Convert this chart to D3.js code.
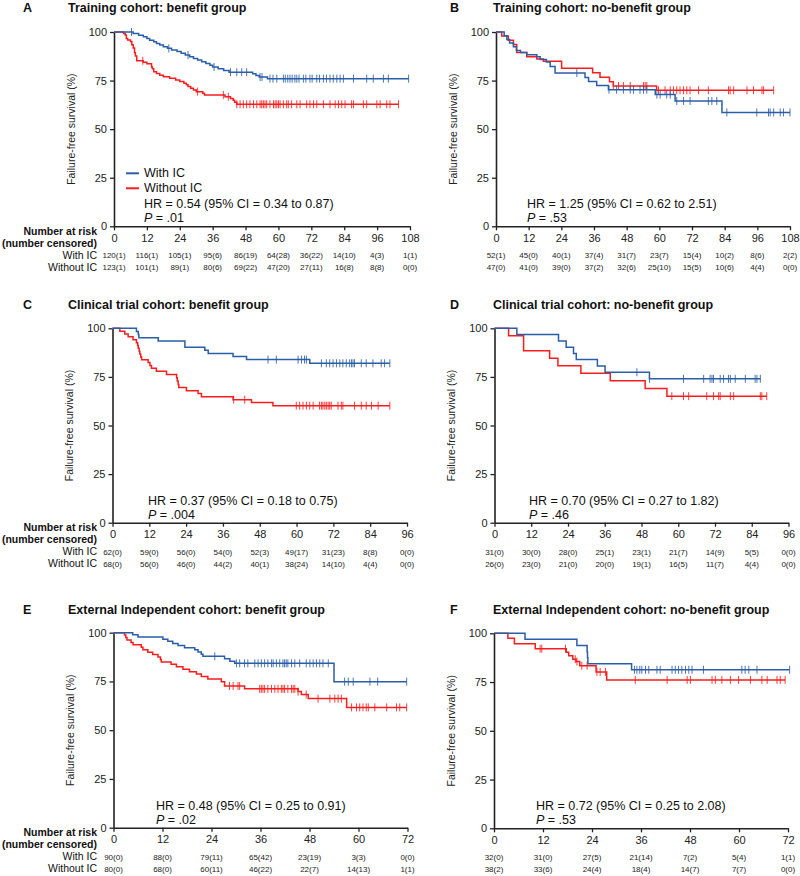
<!DOCTYPE html>
<html><head><meta charset="utf-8">
<script src="https://cdn.jsdelivr.net/npm/d3@7"></script>
<style>body{margin:0;background:#fff}svg{display:block}text{font-family:Arial,"Liberation Sans",sans-serif}</style>
</head><body><svg id="c" width="800" height="876"></svg>
<script>
// ---------- DATA ----------
const yTicks = [0, 25, 50, 75, 100];
const xTicks108 = [0, 12, 24, 36, 48, 60, 72, 84, 96, 108];
const xTicks96 = [0, 12, 24, 36, 48, 60, 72, 84, 96];
const xTicks72 = [0, 12, 24, 36, 48, 60, 72];
const seriesNames = ["With IC", "Without IC"];

// Panel A (events: [month, survival %]; censors: months)
const A_with_ev = [[7,99.2],[9,98.3],[10.7,97.5],[12,96.6],[13,95.8],[14.5,95],[15.5,94.1],[16.7,93.3],[18,92.4],[19.5,91.6],[21,90.7],[23,89.9],[24.5,89],[26,88.1],[27.6,87.3],[29,86.4],[30.5,85.6],[32,84.7],[33.5,83.8],[35,82.9],[36,82],[38,81.1],[40,80.2],[42,79.3],[50.6,78.5],[51.8,77.6],[53,76.8],[56,76]];
const A_with_cens = [6.4,20,27,36.5,42.5,44.8,46.6,48.4,53.3,54,56.9,58,59.4,61.8,62.5,63.4,64.2,65,66,66.7,67.5,69.1,70,71.5,72.3,74,75,76.4,77.5,78.8,80,81.3,82.5,83.7,87.4,92.2,94.6,98.3,100.1,107.5];
const A_wo_ev = [[3.5,99.2],[4.1,98.4],[4.5,96.7],[5,95.9],[6,95.1],[6.5,93.4],[7,91.8],[7.5,89.3],[7.8,87.7],[8.3,85.2],[10.7,84.4],[12,83.6],[13.7,82],[14,81.1],[14.5,79.5],[15.5,78.7],[16.7,77.8],[18,77],[20.3,76.2],[22.5,75.3],[24,74.5],[25.5,73.6],[26.4,72.8],[27,71.9],[28,71],[29,70.2],[30,69.3],[32.4,68.5],[33,67.6],[40.5,66.7],[42.5,65.8],[43.5,64.9],[44,63.8],[44.8,62.8]];
const A_wo_cens = [10.5,30.5,39.9,41.7,44.8,46,47.2,48.4,49.6,50.9,52.1,53.3,53.9,54.5,55.1,55.7,56.9,58.2,58.8,59.4,60,60.6,61.8,63,63.6,64.8,66.7,67.9,70.3,71.5,72.8,74,76.4,78.8,80.7,81.9,83.1,84.3,86.7,87.4,91,92.2,95.9,97.1,99.5,100.7,103.8];
const A_risk_with = ["120(1)","116(1)","105(1)","95(6)","86(19)","64(28)","36(22)","14(10)","4(3)","1(1)"];
const A_risk_wo = ["123(1)","101(1)","89(1)","80(6)","69(22)","47(20)","27(11)","16(8)","8(8)","0(0)"];

// Panel B
const B_with_ev = [[3,98.1],[4,96.2],[5,94.3],[6.4,92.4],[7.5,90.5],[9,89.4],[11.3,88.3],[15,87.2],[16.2,85.9],[18.5,84.6],[19.9,82.3],[21.7,78.9],[32.7,76.6],[34,74.5],[37,72.5],[41.3,70.3],[58.5,67.8],[65.8,64.5],[83,58.6]];
const B_with_cens = [29.7,41.5,44.3,46.8,49.3,50.5,52.9,54.2,55.4,59.1,60.3,62.7,64,66.4,68.9,71.3,78,79.3,81.1,84.8,95.8,100.1,100.7,102,104.4,105.6,108];
const B_wo_ev = [[2.1,97.9],[4.5,95.7],[6.4,93.6],[7.6,89.4],[11.3,87.2],[15,86.1],[17.4,85],[24.1,81.4],[35.5,79],[38.2,76.7],[41.7,74.4],[43.1,72.2],[59,70]];
const B_wo_cens = [43.1,45,46.8,49.3,54.2,54.8,55.4,59.7,62.1,64,65.2,66.4,67.6,68.9,70.1,71.3,74.4,78,85.4,86,87.3,92.2,94.6,97.7,98.3,102];
const B_risk_with = ["52(1)","45(0)","40(1)","37(4)","31(7)","23(7)","15(4)","10(2)","8(6)","2(2)"];
const B_risk_wo = ["47(0)","41(0)","39(0)","37(2)","32(6)","25(10)","15(5)","10(6)","4(4)","0(0)"];

// Panel C
const C_with_ev = [[7.8,98.4],[8.4,96.8],[8.6,95.2],[14.9,93.5],[23.6,90.3],[30.1,88.7],[31.2,87.1],[39.3,85.5],[43.7,83.9],[64.3,82]];
const C_with_cens = [50.7,53.4,60.5,61.6,62.6,63.2,68.1,69.7,70.8,71.9,73,74.1,75.1,76.2,77.3,77.9,78.4,78.9,81.1,82.7,84.9,87.6,88.7,90.4];
const C_wo_ev = [[2.4,98.5],[4,97.1],[5.1,95.6],[6.7,94.1],[7.8,92.6],[8.2,91.2],[8.4,89.7],[8.7,88.2],[8.9,86.8],[9.2,85.3],[9.5,83.8],[11.6,82.4],[12.2,80.9],[12.7,79.4],[14.3,77.9],[17.6,76.2],[20.9,74.6],[21.1,72.9],[21.4,71.2],[21.6,69.5],[24.1,67.9],[27.9,66.4],[29,64.8],[39.3,63.3],[45.3,61.8],[52.3,60.2]];
const C_wo_cens = [39.5,43.1,59.9,61,62.1,63.2,64.3,65.4,67.5,68.1,68.6,69.2,69.7,70.3,70.8,71.3,73.5,74.6,75.1,78.9,81.1,82.7,84.4,86.6,90.4];
const C_risk_with = ["62(0)","59(0)","56(0)","54(0)","52(3)","49(17)","31(23)","8(8)","0(0)"];
const C_risk_wo = ["68(0)","56(0)","46(0)","44(2)","40(1)","38(24)","14(10)","4(4)","0(0)"];

// Panel D
const D_with_ev = [[7.3,96.8],[20.9,93.5],[23.4,90.3],[25.8,87.1],[26.7,83.9],[33.6,80.6],[36.1,77.4],[50.6,74]];
const D_with_cens = [46.5,50.6,61.7,68.3,70.4,71,71.5,73.7,74.8,76.4,77,78.6,81.9,85.1,85.7,86.8];
const D_wo_ev = [[4.6,96.2],[9.5,88.5],[18,84.6],[20.7,80.8],[28.2,76.9],[37.8,73],[49.2,69],[56.3,65.1]];
const D_wo_cens = [57.9,61.7,63.4,69.3,71.5,73.2,73.7,77,78.1,86.8,87.3,88.9];
const D_risk_with = ["31(0)","30(0)","28(0)","25(1)","23(1)","21(7)","14(9)","5(5)","0(0)"];
const D_risk_wo = ["26(0)","23(0)","21(0)","20(0)","19(1)","16(5)","11(7)","4(4)","0(0)"];

// Panel E
const E_with_ev = [[4.7,98.9],[6,97.8],[12.1,96.7],[13.3,95.6],[14.5,94.5],[15.8,93.4],[17.4,92.3],[19.9,91.2],[20.7,90.1],[21.5,89],[21.9,87.9],[27.2,86.6],[28.5,85.4],[29.7,84.3],[54,74.9]];
const E_with_cens = [24.8,30.1,30.9,32.1,32.9,34.6,35.4,36.2,37,37.8,38.7,39.1,39.9,40.7,41.5,41.9,42.3,42.7,43.6,44.4,45.6,47.2,48.1,48.9,49.7,50.5,51.3,52.6,56.6,57.5,58.7,62.8,64.7,71.8];
const E_wo_ev = [[2.7,98.8],[3,97.5],[3.3,96.3],[4.3,95],[4.8,93.8],[6.8,92.5],[7.2,91.3],[8.4,90],[9.6,88.8],[10.9,87.5],[11.5,86.3],[11.7,85],[14.1,83.8],[15.4,82.5],[17,81.3],[18.6,80],[20.3,78.8],[21.5,77.5],[23.1,76.3],[26.4,74.8],[27.2,72.7],[32.1,71.2],[45.2,69.8],[46,68.3],[47.7,66.2],[57.1,61.7]];
const E_wo_cens = [28.4,29.3,30.5,30.9,35.8,36.2,36.6,37,37.8,38.7,39.5,40.3,41.1,41.5,41.9,42.7,43.6,44,44.4,45.2,47.2,50.1,53,54.2,55,55.8,58.3,59.5,60.3,61.1,61.9,62.4,64,66.9,69.3,70.1,71.8];
const E_risk_with = ["90(0)","88(0)","79(11)","65(42)","23(19)","3(3)","0(0)"];
const E_risk_wo = ["80(0)","68(0)","60(11)","46(22)","22(7)","14(13)","1(1)"];

// Panel F
const F_with_ev = [[7.6,96.9],[20.3,93.8],[22.8,90.6],[22.9,87.5],[23,84.4],[33.7,81.3]];
const F_with_cens = [34.4,35,35.7,36.2,37.1,37.9,39.9,40.7,43.6,44.4,45.2,46,46.9,47.7,48.5,51.3,60.7,61.5,62.4,64.4,72.4];
const F_wo_ev = [[3.4,97.4],[5,94.7],[10.1,92.1],[17.7,90.3],[18.3,88.5],[19.3,86.7],[20.1,85.5],[21,83.4],[25,80.2],[27.6,76.1]];
const F_wo_cens = [11.3,11.7,17.5,19.9,20.3,21.5,22.8,25.2,26,27.3,34.6,42.4,47.3,48.1,53.4,54.2,55.8,57.9,59.9,62.8,65.6,66.9,69.3,70.1,71.3];
const F_risk_with = ["32(0)","31(0)","27(5)","21(14)","7(2)","5(4)","1(1)"];
const F_risk_wo = ["38(2)","33(6)","24(4)","18(4)","14(7)","7(7)","0(0)"];

const letters = ["A","B","C","D","E","F"];
const titles = ["Training cohort: benefit group","Training cohort: no-benefit group","Clinical trial cohort: benefit group","Clinical trial cohort: no-benefit group","External Independent cohort: benefit group","External Independent cohort: no-benefit group"];
const hrTexts = ["HR = 0.54 (95% CI = 0.34 to 0.87)","HR = 1.25 (95% CI = 0.62 to 2.51)","HR = 0.37 (95% CI = 0.18 to 0.75)","HR = 0.70 (95% CI = 0.27 to 1.82)","HR = 0.48 (95% CI = 0.25 to 0.91)","HR = 0.72 (95% CI = 0.25 to 2.08)"];
const pTexts = [".01",".53",".004",".46",".02",".53"];

// ---------- LAYOUT ----------
const BLUE = "#2b5ea8", RED = "#fb1d1d";
const panels = [
  {i:0, x0:114, x1:410, yt:32, yb:226.3, ticks:xTicks108, ev:[A_with_ev,A_wo_ev], cens:[A_with_cens,A_wo_cens], risk:[A_risk_with,A_risk_wo], left:true, hrdx:30, legend:true},
  {i:1, x0:496, x1:790, yt:32, yb:226.3, ticks:xTicks108, ev:[B_with_ev,B_wo_ev], cens:[B_with_cens,B_wo_cens], risk:[B_risk_with,B_risk_wo], left:false, hrdx:31},
  {i:2, x0:112.5, x1:407, yt:328.3, yb:522.7, ticks:xTicks96, ev:[C_with_ev,C_wo_ev], cens:[C_with_cens,C_wo_cens], risk:[C_risk_with,C_risk_wo], left:true, hrdx:35.5},
  {i:3, x0:494.5, x1:788.5, yt:328.3, yb:522.7, ticks:xTicks96, ev:[D_with_ev,D_wo_ev], cens:[D_with_cens,D_wo_cens], risk:[D_risk_with,D_risk_wo], left:false, hrdx:34.5},
  {i:4, x0:113.5, x1:407.5, yt:632.7, yb:827.7, ticks:xTicks72, ev:[E_with_ev,E_wo_ev], cens:[E_with_cens,E_wo_cens], risk:[E_risk_with,E_risk_wo], left:true, hrdx:42.5},
  {i:5, x0:494, x1:788, yt:633.3, yb:828.3, ticks:xTicks72, ev:[F_with_ev,F_wo_ev], cens:[F_with_cens,F_wo_cens], risk:[F_risk_with,F_risk_wo], left:false, hrdx:42}
];
const titleY = [12, 12, 309, 309, 614, 614];

const svg = d3.select("#c");

function survAt(ev, t) {
  let s = 100;
  for (const e of ev) { if (e[0] <= t) s = e[1]; }
  return s;
}

panels.forEach(p => {
  const g = svg.append("g");
  const xmax = p.ticks[p.ticks.length - 1];
  const x = d3.scaleLinear().domain([0, xmax]).range([p.x0, p.x1]);
  const y = d3.scaleLinear().domain([0, 100]).range([p.yb, p.yt]);
  const lx = p.left ? 23 : 450, tx = p.left ? 68 : 493;

  g.append("text").attr("x", lx).attr("y", titleY[p.i]).attr("font-size", 12.5).attr("font-weight", "bold").attr("fill", "#111").text(letters[p.i]);
  g.append("text").attr("x", tx).attr("y", titleY[p.i]).attr("font-size", 12.5).attr("font-weight", "bold").attr("fill", "#111").text(titles[p.i]);

  // axes
  const ax = g.append("g").attr("transform", `translate(0,${p.yb})`)
    .call(d3.axisBottom(x).tickValues(p.ticks).tickSize(4).tickSizeOuter(0).tickPadding(4));
  const ay = g.append("g").attr("transform", `translate(${p.x0},0)`)
    .call(d3.axisLeft(y).tickValues(yTicks).tickSize(4).tickSizeOuter(0).tickPadding(3));
  [ax, ay].forEach(a => {
    a.selectAll("path.domain").attr("stroke", "#222").attr("stroke-width", 1.6);
    a.selectAll(".tick line").attr("stroke", "#222").attr("stroke-width", 1.3);
    a.selectAll(".tick text").attr("font-size", 11).attr("fill", "#222").attr("font-family", "Arial, 'Liberation Sans', sans-serif");
  });

  g.append("text").attr("transform", `translate(${p.x0 - 42},${(p.yt + p.yb) / 2}) rotate(-90)`)
    .attr("text-anchor", "middle").attr("dominant-baseline", "middle").attr("font-size", 10.5).attr("fill", "#222")
    .text("Failure-free survival (%)");

  // curves
  const colors = [BLUE, RED];
  const line = d3.line().x(d => x(d[0])).y(d => y(d[1])).curve(d3.curveStepAfter);
  [1, 0].forEach(k => {
    const ev = p.ev[k], cs = p.cens[k];
    const end = Math.max(ev[ev.length - 1][0], d3.max(cs));
    const pts = [[0, 100], ...ev, [end, ev[ev.length - 1][1]]];
    g.append("path").attr("d", line(pts)).attr("fill", "none").attr("stroke", colors[k]).attr("stroke-width", 1.5);
    g.selectAll(null).data(cs).enter().append("line")
      .attr("x1", d => x(d)).attr("x2", d => x(d))
      .attr("y1", d => y(survAt(ev, d)) - 4).attr("y2", d => y(survAt(ev, d)) + 4)
      .attr("stroke", colors[k]).attr("stroke-width", 1).attr("stroke-opacity", 0.85);
  });

  // HR & P
  const hx = p.x0 + p.hrdx;
  g.append("text").attr("x", hx).attr("y", p.yb - 18).attr("font-size", 12.5).attr("fill", "#111").text(hrTexts[p.i]);
  const pt = g.append("text").attr("x", hx).attr("y", p.yb - 4).attr("font-size", 12.5).attr("fill", "#111");
  pt.append("tspan").attr("font-style", "italic").text("P");
  pt.append("tspan").text(" = " + pTexts[p.i]);

  // legend
  if (p.legend) {
    [0, 1].forEach(k => {
      const ly = p.yb - 53 + k * 15;
      g.append("line").attr("x1", p.x0 + 12).attr("x2", p.x0 + 25).attr("y1", ly).attr("y2", ly).attr("stroke", colors[k]).attr("stroke-width", 2);
      g.append("text").attr("x", p.x0 + 30).attr("y", ly).attr("dominant-baseline", "middle").attr("font-size", 12.5).attr("fill", "#111").text(seriesNames[k]);
    });
  }

  // risk table
  if (p.left) {
    g.append("text").attr("x", 97).attr("y", p.yb + 5.5).attr("text-anchor", "end").attr("dominant-baseline", "middle").attr("font-size", 10.5).attr("font-weight", "bold").attr("fill", "#111").text("Number at risk");
    g.append("text").attr("x", 97).attr("y", p.yb + 18).attr("text-anchor", "end").attr("dominant-baseline", "middle").attr("font-size", 10.5).attr("font-weight", "bold").attr("fill", "#111").text("(number censored)");
    seriesNames.forEach((n, k) => {
      g.append("text").attr("x", 97).attr("y", p.yb + 30 + k * 12).attr("text-anchor", "end").attr("dominant-baseline", "middle").attr("font-size", 10.5).attr("fill", "#111").text(n);
    });
  }
  p.risk.forEach((row, k) => {
    g.selectAll(null).data(row).enter().append("text")
      .attr("x", (d, j) => x(p.ticks[j]))
      .attr("y", p.yb + 30 + k * 12)
      .attr("text-anchor", "middle").attr("dominant-baseline", "middle")
      .attr("font-size", 8).attr("fill", "#222").text(d => d);
  });
});
</script></body></html>
